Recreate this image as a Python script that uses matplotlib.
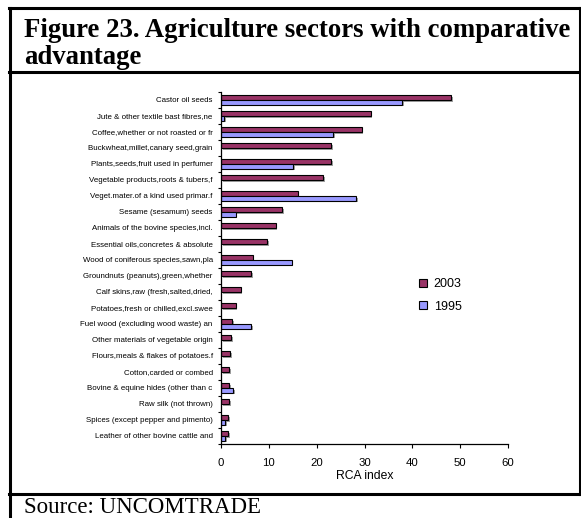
import matplotlib
matplotlib.use("Agg")
import matplotlib.pyplot as plt
import matplotlib.patheffects as pe
from matplotlib.lines import Line2D
import numpy as np

categories = [
    "Castor oil seeds",
    "Jute & other textile bast fibres,ne",
    "Coffee,whether or not roasted or fr",
    "Buckwheat,millet,canary seed,grain",
    "Plants,seeds,fruit used in perfumer",
    "Vegetable products,roots & tubers,f",
    "Veget.mater.of a kind used primar.f",
    "Sesame (sesamum) seeds",
    "Animals of the bovine species,incl.",
    "Essential oils,concretes & absolute",
    "Wood of coniferous species,sawn,pla",
    "Groundnuts (peanuts),green,whether",
    "Calf skins,raw (fresh,salted,dried,",
    "Potatoes,fresh or chilled,excl.swee",
    "Fuel wood (excluding wood waste) an",
    "Other materials of vegetable origin",
    "Flours,meals & flakes of potatoes.f",
    "Cotton,carded or combed",
    "Bovine & equine hides (other than c",
    "Raw silk (not thrown)",
    "Spices (except pepper and pimento)",
    "Leather of other bovine cattle and",
]
rca_2003 = [48.1, 31.3, 29.4, 23.1, 23.1, 21.4, 16.0, 12.8, 11.4, 9.7, 6.6,
            6.3, 4.1, 3.1, 2.4, 2.1, 1.9, 1.7, 1.7, 1.7, 1.5, 1.5]
rca_1995 = [37.9, 0.6, 23.5, 0.0, 15.1, 0.0, 28.3, 3.1, 0.0, 0.0, 14.8,
            0.0, 0.0, 0.0, 6.3, 0.0, 0.0, 0.0, 2.6, 0.0, 0.85, 0.85]
series_names = ["2003", "1995"]
x_ticks = [0, 10, 20, 30, 40, 50, 60]

W, H = 581, 518
fig = plt.figure(figsize=(W / 100, H / 100), dpi=100)
fig.patch.set_facecolor("white")

def fx(px):
    return px / W

def fy(py):
    return 1 - py / H

ax = fig.add_axes([fx(221), fy(444), fx(508) - fx(221), fy(92) - fy(444)])

y = np.arange(len(categories))
bh = 0.29
shadow = [pe.SimplePatchShadow(offset=(1.2, -1.2), shadow_rgbFace="#888888", alpha=0.8), pe.Normal()]
b1 = ax.barh(y - bh, rca_2003, height=bh, align="edge", color="#993366",
             edgecolor="black", linewidth=0.8)
b2 = ax.barh(y, [v if v > 0 else np.nan for v in rca_1995], height=bh, align="edge",
             color="#9999FF", edgecolor="black", linewidth=0.8)
for b in list(b1) + list(b2):
    b.set_path_effects(shadow)

ax.set_ylim(len(categories) - 0.5, -0.5)
ax.set_xlim(0, 60)
ax.set_xticks(x_ticks)
ax.set_xticklabels([str(t) for t in x_ticks], fontsize=8.2, family="Liberation Sans")
ax.tick_params(axis="x", length=3, width=0.8, pad=7, direction="out")

ax.set_yticks(np.arange(len(categories) + 1) - 0.5)
ax.set_yticklabels([])
ax.tick_params(axis="y", which="major", length=2.5, width=0.8, direction="out")
ax.set_yticks(y, minor=True)
ax.set_yticklabels(categories, minor=True, fontsize=5.7, family="Liberation Sans")
ax.tick_params(axis="y", which="minor", length=0, pad=6)

for s in ["top", "right"]:
    ax.spines[s].set_visible(False)
for s in ["left", "bottom"]:
    ax.spines[s].set_linewidth(0.9)

ax.set_xlabel("RCA index", fontsize=8.7, family="Liberation Sans", labelpad=1.5)

handles = [
    Line2D([], [], marker="s", linestyle="none", markersize=5.5,
           markerfacecolor="#993366", markeredgecolor="black", markeredgewidth=0.8),
    Line2D([], [], marker="s", linestyle="none", markersize=5.5,
           markerfacecolor="#9999FF", markeredgecolor="black", markeredgewidth=0.8),
]
fig.legend(handles, series_names, loc="upper left",
           bbox_to_anchor=(fx(418), fy(278)), frameon=False,
           prop={"family": "Liberation Sans", "size": 9},
           handlelength=0.8, handletextpad=0.45, labelspacing=0.85,
           borderpad=0, borderaxespad=0)

# frame lines
lw = 2.2
def hline(py, x0=9, x1=581):
    fig.add_artist(Line2D([fx(x0), fx(x1)], [fy(py), fy(py)], color="black", lw=lw,
                          transform=fig.transFigure))
def vline(px, y0, y1):
    fig.add_artist(Line2D([fx(px), fx(px)], [fy(y0), fy(y1)], color="black", lw=lw,
                          transform=fig.transFigure))

hline(8)
hline(72)
hline(494)
vline(9.5, 8, 518)
vline(579.5, 8, 494)

fig.text(fx(24), fy(37), "Figure 23. Agriculture sectors with comparative",
         family="Liberation Serif", weight="bold", fontsize=19.3, va="baseline", ha="left")
fig.text(fx(24), fy(64), "advantage",
         family="Liberation Serif", weight="bold", fontsize=19.3, va="baseline", ha="left")
fig.text(fx(24), fy(513), "Source: UNCOMTRADE",
         family="Liberation Serif", fontsize=16.5, va="baseline", ha="left")

fig.savefig("out.png", dpi=100)
